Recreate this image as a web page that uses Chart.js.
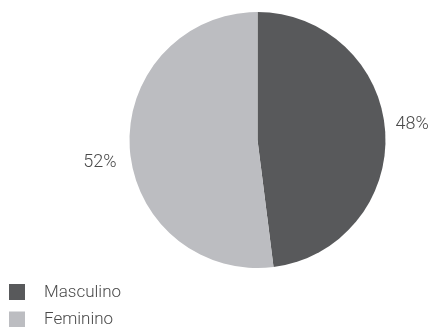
<!DOCTYPE html>
<html>
<head>
<meta charset="utf-8">
<script src="https://cdn.jsdelivr.net/npm/chart.js@4"></script>
<style>
html,body{margin:0;padding:0;background:#fff;}
#wrap{width:432px;height:327px;position:relative;}
</style>
</head>
<body>
<div id="wrap"><canvas id="c" width="432" height="327"></canvas></div>
<script>
const categories = ["Masculino", "Feminino"];
const values = [48, 52];
const valueLabels = ["48%", "52%"];
const colors = ["#58595b", "#bcbdc1"];

const LABEL_FONT = '300 18px "Roboto", "Lato", sans-serif';
const LEGEND_FONT = '300 17px "Roboto", "Lato", sans-serif';
const TEXT_COLOR = '#4a4a4a';

const labelPlugin = {
  id: 'outLabels',
  afterDatasetsDraw(chart) {
    const ctx = chart.ctx;
    const meta = chart.getDatasetMeta(0);
    ctx.save();
    ctx.font = LABEL_FONT;
    ctx.fillStyle = TEXT_COLOR;
    ctx.textBaseline = 'middle';
    ctx.textAlign = 'center';
    meta.data.forEach((arc, i) => {
      const p = arc.getProps(['x','y','startAngle','endAngle','outerRadius'], true);
      const mid = (p.startAngle + p.endAngle) / 2;
      const right = Math.cos(mid) >= 0;
      const d = p.outerRadius + (right ? 27 : 30);
      const x = p.x + Math.cos(mid) * d;
      const y = p.y + Math.sin(mid) * d + (right ? -6 : 12.5);
      ctx.fillText(valueLabels[i], x, y);
    });
    // legend
    const lx = 9, ly0 = 284, step = 27.5, box = 16;
    ctx.font = LEGEND_FONT;
    ctx.textAlign = 'left';
    categories.forEach((c, i) => {
      const y = ly0 + i * step;
      ctx.fillStyle = colors[i];
      ctx.fillRect(lx, y, box, box);
      ctx.fillStyle = TEXT_COLOR;
      ctx.fillText(c, lx + 35, y + box / 2 + 0.5);
    });
    ctx.restore();
  }
};

new Chart(document.getElementById('c'), {
  type: 'pie',
  data: {
    labels: categories,
    datasets: [{
      data: values,
      backgroundColor: colors,
      borderWidth: 0
    }]
  },
  options: {
    responsive: false,
    animation: false,
    layout: { padding: { left: 129.5, right: 46.5, top: 12, bottom: 59 } },
    plugins: {
      legend: { display: false },
      tooltip: { enabled: false }
    }
  },
  plugins: [labelPlugin]
});
</script>
</body>
</html>
